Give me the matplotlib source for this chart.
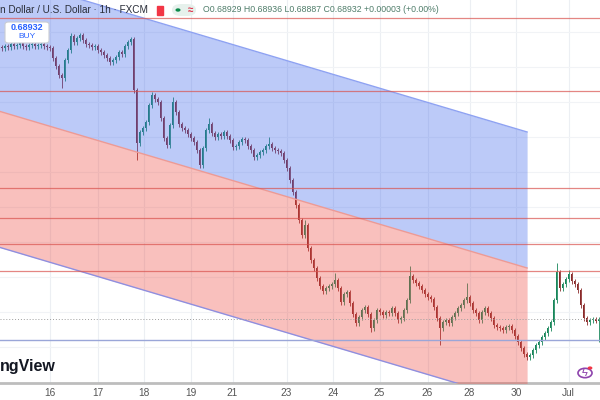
import matplotlib
matplotlib.use("Agg")
import matplotlib.pyplot as plt
import numpy as np
from matplotlib.patches import FancyBboxPatch, Circle, Rectangle

plt.rcParams["font.family"] = ["Liberation Sans", "DejaVu Sans"]

# 1h candles (close prices), one per bar
closes = [
    0.69474, 0.69478, 0.69476, 0.69482, 0.69478, 0.69480, 0.69484, 0.69478, 0.69476, 0.69480,
    0.69482, 0.69478, 0.69480, 0.69482, 0.69478, 0.69476, 0.69474, 0.69454, 0.69438, 0.69420,
    0.69414, 0.69450, 0.69470, 0.69498, 0.69486, 0.69494, 0.69500, 0.69490, 0.69482, 0.69480,
    0.69476, 0.69478, 0.69470, 0.69466, 0.69460, 0.69454, 0.69446, 0.69450, 0.69456, 0.69466,
    0.69462, 0.69478, 0.69486, 0.69492, 0.69390, 0.69284, 0.69306, 0.69314, 0.69326, 0.69360,
    0.69380, 0.69372, 0.69366, 0.69334, 0.69294, 0.69280, 0.69320, 0.69366, 0.69346, 0.69322,
    0.69314, 0.69310, 0.69302, 0.69294, 0.69286, 0.69270, 0.69240, 0.69274, 0.69310, 0.69322,
    0.69304, 0.69296, 0.69302, 0.69298, 0.69306, 0.69298, 0.69290, 0.69276, 0.69278, 0.69286,
    0.69292, 0.69290, 0.69278, 0.69270, 0.69256, 0.69260, 0.69266, 0.69270, 0.69278, 0.69282,
    0.69274, 0.69270, 0.69268, 0.69264, 0.69250, 0.69234, 0.69210, 0.69186, 0.69160, 0.69130,
    0.69100, 0.69120, 0.69074, 0.69050, 0.69034, 0.69014, 0.68998, 0.68988, 0.68994, 0.68998,
    0.69002, 0.69010, 0.68994, 0.68966, 0.68982, 0.68986, 0.68964, 0.68942, 0.68924, 0.68936,
    0.68950, 0.68956, 0.68942, 0.68914, 0.68930, 0.68950, 0.68946, 0.68940, 0.68946, 0.68944,
    0.68954, 0.68944, 0.68930, 0.68934, 0.68950, 0.68970, 0.69018, 0.69010, 0.69004, 0.68998,
    0.68990, 0.68982, 0.68976, 0.68972, 0.68956, 0.68934, 0.68914, 0.68926, 0.68930, 0.68924,
    0.68936, 0.68944, 0.68954, 0.68960, 0.68970, 0.68976, 0.68964, 0.68950, 0.68944, 0.68930,
    0.68946, 0.68954, 0.68944, 0.68934, 0.68920, 0.68916, 0.68914, 0.68910, 0.68916, 0.68918,
    0.68910, 0.68898, 0.68886, 0.68874, 0.68862, 0.68856, 0.68860, 0.68870, 0.68880, 0.68886,
    0.68896, 0.68904, 0.68914, 0.68926, 0.68970, 0.69026, 0.68994, 0.69002, 0.69012, 0.69022,
    0.69008, 0.69002, 0.68990, 0.68960, 0.68934, 0.68926, 0.68930, 0.68932, 0.68929, 0.68932,
]
first_open = 0.69476
spike_highs = {23: 0.69504, 26: 0.69504, 43: 0.69496, 50: 0.69386, 57: 0.69376, 69: 0.69334,
               89: 0.69296, 101: 0.69130, 111: 0.69024, 136: 0.69038, 155: 0.69004,
               185: 0.69044, 189: 0.69030, 199: 0.68936}
spike_lows = {20: 0.69394, 45: 0.69250, 66: 0.69234, 123: 0.68906, 146: 0.68880,
              175: 0.68850, 199: 0.68887}
wick = 0.00005

# x axis labels (bar index)
tick_pos = [16, 32, 47.5, 63, 77, 95, 110.5, 126, 142, 156, 171.5, 189]
tick_labels = ["16", "17", "18", "19", "21", "23", "24", "25", "26", "28", "30", "Jul"]

# regression channel (bar index, price)
chan_x = [-1, 175.2]
chan_top = [0.69620, 0.69306]
chan_mid = [0.69348, 0.69034]
chan_low = [0.69076, 0.68762]

# horizontal levels
red_levels = [0.69534, 0.69388, 0.69194, 0.69134, 0.69082, 0.69028]
blue_level = 0.68890
last_price = 0.68932
hgrid = [0.69506, 0.69436, 0.69366, 0.69296, 0.69226, 0.69156, 0.69086, 0.69016, 0.68946, 0.68876]

fig = plt.figure(figsize=(6, 4), dpi=100)
ax = fig.add_axes([0, 17 / 400, 1, 383 / 400])
ax.set_xlim(-0.5, 199.5)
ax.set_ylim(0.68804, 0.6957)

# grid
for t in tick_pos:
    ax.axvline(t, color="#eceff3", lw=0.8, zorder=0)
for g in hgrid:
    ax.axhline(g, color="#f1f3f6", lw=0.8, zorder=0)

# candles
c = np.array(closes)
o = np.concatenate([[first_open], c[:-1]])
hi = np.maximum(o, c) + wick
lo = np.minimum(o, c) - wick
for k, v in spike_highs.items():
    hi[k] = v
for k, v in spike_lows.items():
    lo[k] = v
x = np.arange(len(c))
up = c >= o
cols = np.where(up, "#17865a", "#8a2a2a")
ax.vlines(x, lo, hi, colors=cols, lw=0.6, zorder=2)
body = np.where(np.abs(c - o) < 0.000015, 0.000015, c - o)
ax.bar(x, body, bottom=o, width=0.55, color=cols, zorder=2, linewidth=0)

# channel fills
ax.fill_between(chan_x, chan_mid, chan_top, color="#4068eb", alpha=0.35, lw=0, zorder=3)
ax.fill_between(chan_x, chan_low, chan_mid, color="#ee4b42", alpha=0.35, lw=0, zorder=3)
ax.plot(chan_x, chan_top, color="#8ea2f2", lw=1, zorder=4)
ax.plot(chan_x, chan_mid, color="#ee9a94", lw=1, zorder=4)
ax.plot(chan_x, chan_low, color="#8f8fe0", lw=1, zorder=4)

# levels
for lv in red_levels:
    ax.axhline(lv, color="#d9534f", lw=0.9, alpha=0.7, zorder=4)
ax.axhline(blue_level, color="#9aa6d8", lw=1, zorder=4)
ax.axhline(last_price, color="#9e9e9e", lw=0.7, ls=(0, (1, 2)), zorder=4)

# axes styling
for s in ["top", "left", "right"]:
    ax.spines[s].set_visible(False)
ax.spines["bottom"].set_color("#bdbdbd")
ax.spines["bottom"].set_linewidth(2)
ax.set_yticks([])
ax.set_xticks(tick_pos)
ax.set_xticklabels(tick_labels, fontsize=7.3, color="#555555")
ax.tick_params(axis="x", length=0, pad=3.5)

# header
fig.text(0.0, 1 - 10 / 400, "n Dollar / U.S. Dollar · 1h · FXCM", fontsize=7.2,
         color="#2a2e39", va="center", ha="left")
fig.patches.append(Rectangle((157 / 600, 1 - 15 / 400), 6 / 600, 9 / 400,
                             transform=fig.transFigure, color="#f23645"))
fig.patches.append(FancyBboxPatch((172 / 600, 1 - 16 / 400), 24 / 600, 12 / 400,
                                  boxstyle="round,pad=0,rounding_size=0.015",
                                  transform=fig.transFigure, color="#e6f1ec", ec="none"))
fig.patches.append(Circle((178 / 600, 1 - 10 / 400), 0.0042, transform=fig.transFigure,
                          fc="#0c8a4a", ec="none"))
fig.text(190 / 600, 1 - 10 / 400, "≈", fontsize=7, color="#e0314b", va="center", ha="center",
         fontweight="bold")
fig.text(203 / 600, 1 - 10 / 400, "O0.68929 H0.68936 L0.68887 C0.68932 +0.00003 (+0.00%)",
         fontsize=6.3, color="#4f7d6a", va="center", ha="left")

# buy box
fig.patches.append(FancyBboxPatch((5 / 600, 1 - 43 / 400), 44 / 600, 21 / 400,
                                  boxstyle="round,pad=0,rounding_size=0.006",
                                  transform=fig.transFigure, fc="white", ec="#c9ccd3", lw=0.8,
                                  zorder=5))
fig.text(27 / 600, 1 - 27 / 400, "0.68932", fontsize=6.5, color="#2962ff", ha="center",
         va="center", fontweight="bold", zorder=6)
fig.text(27 / 600, 1 - 37 / 400, "BUY", fontsize=6, color="#2962ff", ha="center",
         va="center", zorder=6)

# logo and icon
fig.text(0.0, 1 - 367 / 400, "ngView", fontsize=11.5, color="#131722", ha="left", va="center",
         fontweight="bold")
fig.patches.append(Circle((585 / 600, 1 - 373 / 400), 0.0117, transform=fig.transFigure,
                          fc="white", ec="#8e44ad", lw=1.2, zorder=6))
fig.text(585 / 600, 1 - 373 / 400, "ϟ", fontsize=8, color="#8e44ad", ha="center", va="center",
         zorder=7)
fig.patches.append(Circle((590 / 600, 1 - 368 / 400), 0.004, transform=fig.transFigure,
                          fc="#f23645", ec="none", zorder=7))

plt.savefig("out.png", dpi=100)
